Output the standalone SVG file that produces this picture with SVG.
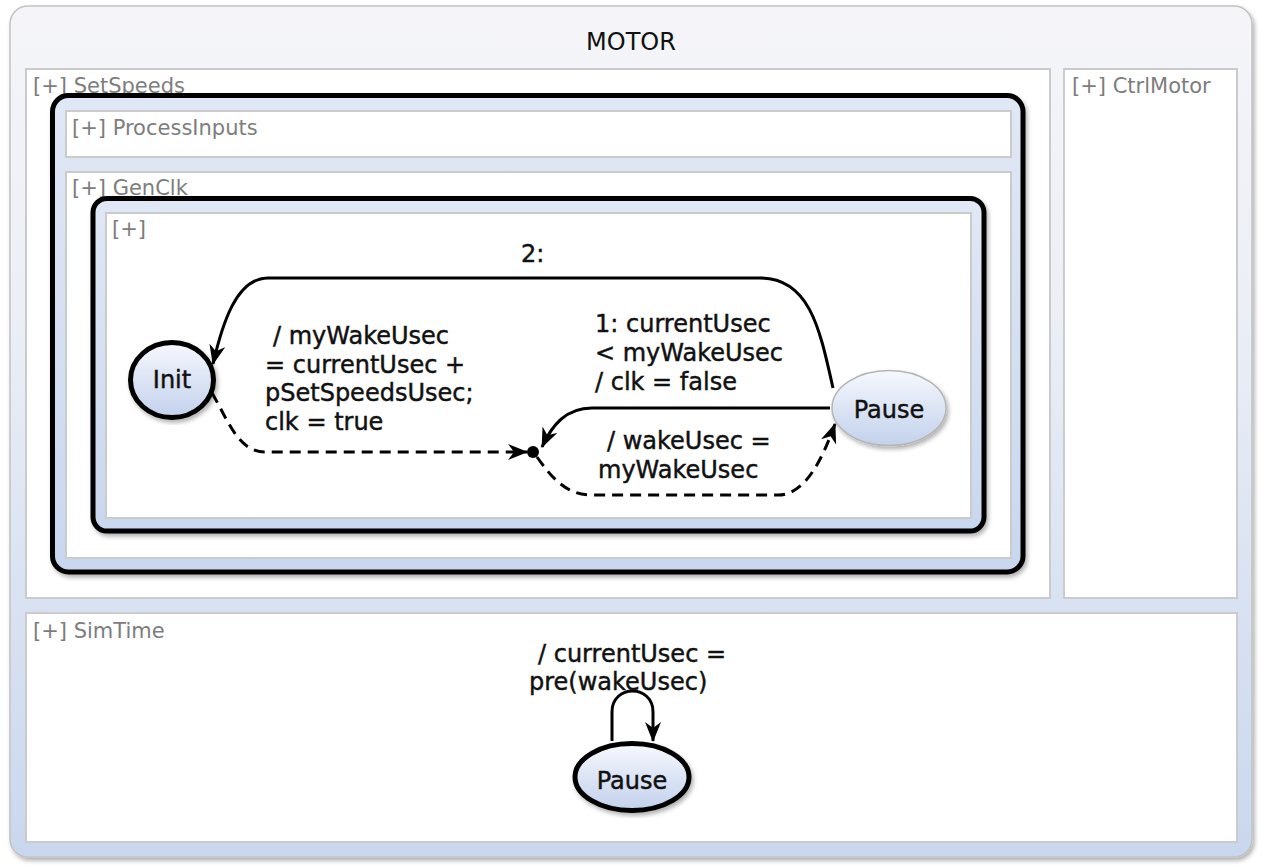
<svg xmlns="http://www.w3.org/2000/svg" width="1262" height="865" viewBox="0 0 1262 865">
  <defs>
    <linearGradient id="gMotor" x1="0" y1="0" x2="0" y2="1">
      <stop offset="0" stop-color="#f5f5f9"/>
      <stop offset="0.35" stop-color="#eceff6"/>
      <stop offset="1" stop-color="#c9d7ee"/>
    </linearGradient>
    <linearGradient id="gComp" x1="0" y1="0" x2="0" y2="1">
      <stop offset="0" stop-color="#e1e8f5"/>
      <stop offset="1" stop-color="#c9d7ee"/>
    </linearGradient>
    <linearGradient id="gState" x1="0" y1="0" x2="0" y2="1">
      <stop offset="0" stop-color="#f6f8fd"/>
      <stop offset="1" stop-color="#c2d1ec"/>
    </linearGradient>
    <filter id="shadow" x="-10%" y="-10%" width="120%" height="120%">
      <feDropShadow dx="2" dy="3" stdDeviation="2" flood-color="#000" flood-opacity="0.3"/>
    </filter>
    <marker id="arrow" markerUnits="userSpaceOnUse" markerWidth="22" markerHeight="18" refX="19" refY="8" orient="auto">
      <path d="M0,0 L20,8 L0,16 L6,8 Z" fill="#000" stroke="none"/>
    </marker>
    <style>
      .region { fill: #ffffff; stroke: #cbcbcb; stroke-width: 2; }
      .comp { fill: url(#gComp); stroke: #000; stroke-width: 5; filter: url(#shadow); }
      .glabel { font-family: "DejaVu Sans", sans-serif; font-size: 21px; fill: #7d7d7d; }
      .lbl { font-family: "DejaVu Sans", sans-serif; font-size: 24px; fill: #111; stroke: #111; stroke-width: 0.45; }
      .sname { font-family: "DejaVu Sans", sans-serif; font-size: 24px; fill: #111; stroke: #111; stroke-width: 0.45; text-anchor: middle; }
      .edge { fill: none; stroke: #000; stroke-width: 3; }
      .dashed { stroke-dasharray: 11 7; }
    </style>
  </defs>

  <g id="motor">
    <rect x="10" y="6" width="1242" height="851" rx="18" fill="url(#gMotor)" stroke="#c2c2c2" stroke-width="1.5" filter="url(#shadow)"/>
    <text x="631" y="50" text-anchor="middle" font-family="DejaVu Sans, sans-serif" font-size="24" fill="#111">MOTOR</text>
  </g>

  <g id="region-setspeeds">
    <rect class="region" x="26" y="69" width="1024" height="529"/>
    <text class="glabel" x="33" y="93">[+] SetSpeeds</text>
  </g>

  <g id="region-ctrlmotor">
    <rect class="region" x="1064" y="69" width="173" height="529"/>
    <text class="glabel" x="1072" y="93">[+] CtrlMotor</text>
  </g>

  <g id="region-simtime">
    <rect class="region" x="26" y="613" width="1211" height="229"/>
    <text class="glabel" x="33" y="638">[+] SimTime</text>
  </g>

  <g id="state-setspeeds">
    <rect class="comp" x="52.5" y="95.5" width="970.5" height="476.5" rx="16"/>
  </g>

  <g id="region-processinputs">
    <rect class="region" x="66" y="111" width="945" height="46"/>
    <text class="glabel" x="72" y="135">[+] ProcessInputs</text>
  </g>

  <g id="region-genclk">
    <rect class="region" x="66" y="172" width="945" height="386"/>
    <text class="glabel" x="72" y="195">[+] GenClk</text>
  </g>

  <g id="state-genclk">
    <rect class="comp" x="93" y="198.5" width="891" height="332.5" rx="14"/>
  </g>

  <g id="region-genclk-inner">
    <rect class="region" x="106" y="213" width="865" height="305"/>
    <text class="glabel" x="112" y="236">[+]</text>
  </g>

  <g id="connectors">
    <path id="e-pause-init" class="edge" d="M833 388 C820 330 810 278 760 278 L268 278 C236 278 222 325 213 364" marker-end="url(#arrow)"/>
    <path id="e-pause-junction" class="edge" d="M830 408 L592 408 C566 408 552 425 542 447" marker-end="url(#arrow)"/>
    <path id="e-init-junction" class="edge dashed" d="M212 393 C228 420 238 452 265 452 L527 452" marker-end="url(#arrow)"/>
    <path id="e-junction-pause" class="edge dashed" d="M537 457 C552 478 566 495 592 495 L778 495 C805 495 822 460 835 424" marker-end="url(#arrow)"/>
    <path id="e-pause-self" class="edge" d="M612 741 L612 712 C612 684 653 684 653 712 L653 741" marker-end="url(#arrow)"/>

    <text class="lbl" x="521" y="262">2:</text>

    <text class="lbl" x="273" y="344">/ myWakeUsec</text>
    <text class="lbl" x="265" y="373">= currentUsec +</text>
    <text class="lbl" x="265" y="401">pSetSpeedsUsec;</text>
    <text class="lbl" x="265" y="430">clk = true</text>

    <text class="lbl" x="595" y="332">1: currentUsec</text>
    <text class="lbl" x="595" y="361">&lt; myWakeUsec</text>
    <text class="lbl" x="595" y="390">/ clk = false</text>

    <text class="lbl" x="607" y="449">/ wakeUsec =</text>
    <text class="lbl" x="598" y="478">myWakeUsec</text>

    <text class="lbl" x="538" y="662">/ currentUsec =</text>
    <text class="lbl" x="529" y="690">pre(wakeUsec)</text>
  </g>

  <g id="node-init">
    <ellipse cx="172" cy="380" rx="41.5" ry="37.5" fill="url(#gState)" stroke="#000" stroke-width="5" filter="url(#shadow)"/>
    <text class="sname" x="172" y="388">Init</text>
  </g>

  <g id="node-junction">
    <circle cx="533" cy="452" r="6" fill="#000"/>
  </g>

  <g id="node-pause-genclk">
    <ellipse cx="889" cy="408" rx="57" ry="37.5" fill="url(#gState)" stroke="#b5b5b5" stroke-width="1.5" filter="url(#shadow)"/>
    <text class="sname" x="889" y="418">Pause</text>
  </g>

  <g id="node-pause-simtime">
    <ellipse cx="632" cy="777" rx="57" ry="33.5" fill="url(#gState)" stroke="#000" stroke-width="5" filter="url(#shadow)"/>
    <text class="sname" x="632" y="789">Pause</text>
  </g>
</svg>
